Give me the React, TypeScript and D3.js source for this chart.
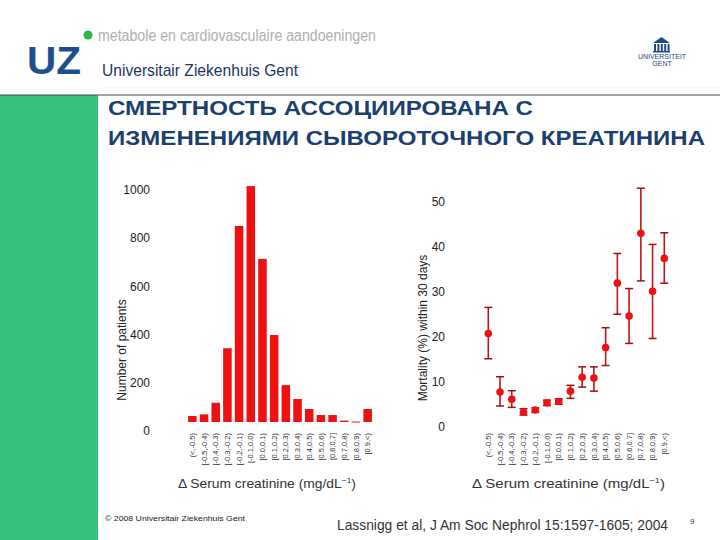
import React from "react";
import * as d3 from "d3";

const categories = [
  "(<,-0.5)", "[-0.5,-0.4)", "[-0.4,-0.3)", "[-0.3,-0.2)", "[-0.2,-0.1)", "[-0.1,0.0)",
  "[0.0,0.1)", "[0.1,0.2)", "[0.2,0.3)", "[0.3,0.4)", "[0.4,0.5)", "[0.5,0.6)",
  "[0.6,0.7]", "[0.7,0.8)", "[0.8,0.9)", "[0.9,<)",
];
const patients = [26, 33, 83, 318, 845, 1017, 703, 375, 159, 99, 56, 30, 30, 6, 2, 56];
const mortality = [20.7, 7.7, 6.1, 3.2, 3.7, 5.3, 5.6, 7.9, 11.0, 10.8, 17.6, 31.9, 24.6, 43.0, 30.1, 37.4];
const ciLow = [15.1, 4.6, 4.3, 2.6, 3.2, 4.7, 5.0, 6.3, 8.8, 7.9, 13.6, 25.0, 18.5, 32.4, 19.6, 31.9];
const ciHigh = [26.5, 11.1, 8.0, 4.0, 4.2, 5.9, 6.2, 9.2, 13.3, 13.3, 22.0, 38.5, 30.7, 53.0, 40.5, 43.1];
const patientTicks = [0, 200, 400, 600, 800, 1000];
const mortalityTicks = [0, 10, 20, 30, 40, 50];

const titleLines = ["СМЕРТНОСТЬ АССОЦИИРОВАНА С", "ИЗМЕНЕНИЯМИ СЫВОРОТОЧНОГО КРЕАТИНИНА"];

const FONT = "'Liberation Sans', Arial, sans-serif";

export default function App() {
  const xBand = d3.scaleBand<string>().domain(categories).range([186.5, 373.5]).paddingInner(0.27).paddingOuter(0.135);
  const yBar = d3.scaleLinear().domain([0, 1000]).range([422, 190]);
  const yBarTick = d3.scaleLinear().domain([0, 1000]).range([431, 190]);
  const xPt = d3.scalePoint<string>().domain(categories).range([488.3, 664.3]);
  const yM = d3.scaleLinear().domain([0, 50]).range([426.7, 201.7]);

  const xTitle = (x: number, len: number) => (
    <text x={x} y={488} fontSize={13} fill="#333" fontFamily={FONT} textLength={len} lengthAdjust="spacingAndGlyphs">
      <tspan>Δ Serum creatinine (mg/dL</tspan>
      <tspan dy={-5} fontSize={8}>−1</tspan>
      <tspan dy={5}>)</tspan>
    </text>
  );

  return (
    <svg width={720} height={540} style={{ position: "absolute", left: 0, top: 0, background: "#fff" }}>
      <rect x={0} y={0} width={720} height={540} fill="#fff" />
      {/* left green strip and rule */}
      <rect x={0} y={95} width={98} height={445} fill="#37c07c" />
      <line x1={0} x2={720} y1={95} y2={95} stroke="#444" strokeWidth={1} />
      <line x1={100} x2={720} y1={88} y2={88} stroke="#f0f0f0" strokeWidth={1} />

      {/* header */}
      <circle cx={88} cy={35} r={4.5} fill="#2fb34f" />
      <text x={98} y={41} fontSize={16} fill="#b0b0b0" fontFamily={FONT} textLength={278} lengthAdjust="spacingAndGlyphs">
        metabole en cardiovasculaire aandoeningen
      </text>
      <text x={27} y={74} fontSize={38} fontWeight={900} fill="#1d4f8b" fontFamily={FONT} textLength={54} lengthAdjust="spacingAndGlyphs">
        UZ
      </text>
      <text x={102} y={76} fontSize={17} fill="#1b3563" fontFamily={FONT} textLength={196} lengthAdjust="spacingAndGlyphs">
        Universitair Ziekenhuis Gent
      </text>
      {/* Universiteit Gent logo */}
      <g fill="#1f4a86">
        <polygon points="653,43 661.5,37 670,43" />
        {[0, 1, 2, 3, 4].map((i) => (
          <rect key={i} x={654 + i * 3.4} y={44} width={2} height={7} />
        ))}
        <rect x={653} y={51} width={17} height={1.5} />
      </g>
      <text x={662} y={59} fontSize={7} textAnchor="middle" fill="#1f4a86" fontFamily={FONT}>UNIVERSITEIT</text>
      <text x={662} y={66} fontSize={7} textAnchor="middle" fill="#1f4a86" fontFamily={FONT}>GENT</text>

      {/* title */}
      {titleLines.map((t, i) => (
        <text key={i} x={108} y={115 + i * 30} fontSize={21} fontWeight={700} fill="#1c3f6e"
          fontFamily="'Liberation Sans Narrow', 'Liberation Sans', Arial, sans-serif"
          textLength={i === 0 ? 425 : 597} lengthAdjust="spacingAndGlyphs">
          {t}
        </text>
      ))}

      {/* left chart */}
      {patientTicks.map((v) => (
        <text key={v} x={150} y={yBarTick(v)} dy="0.35em" textAnchor="end" fontSize={12} fill="#222" fontFamily={FONT}>
          {v}
        </text>
      ))}
      <text transform="translate(122,350) rotate(-90)" textAnchor="middle" dy="0.35em" fontSize={12} fill="#222" fontFamily={FONT}>
        Number of patients
      </text>
      {categories.map((c, i) => (
        <rect key={c} x={xBand(c)} y={yBar(patients[i])} width={xBand.bandwidth()}
          height={Math.max(1, yBar(0) - yBar(patients[i]))} fill="#ee1111" />
      ))}
      {categories.map((c) => (
        <text key={c} transform={`translate(${(xBand(c) as number) + xBand.bandwidth() / 2},433) rotate(-90)`}
          textAnchor="end" dy="0.35em" fontSize={7.5} fill="#333" fontFamily={FONT}>
          {c}
        </text>
      ))}
      {xTitle(178, 178)}

      {/* right chart */}
      {mortalityTicks.map((v) => (
        <text key={v} x={445} y={yM(v)} dy="0.35em" textAnchor="end" fontSize={12} fill="#222" fontFamily={FONT}>
          {v}
        </text>
      ))}
      <text transform="translate(423,328) rotate(-90)" textAnchor="middle" dy="0.35em" fontSize={12} fill="#222" fontFamily={FONT}>
        Mortality (%) within 30 days
      </text>
      {categories.map((c, i) => {
        const x = xPt(c) as number;
        return (
          <g key={c}>
            <line x1={x} x2={x} y1={yM(ciLow[i])} y2={yM(ciHigh[i])} stroke="#c0141a" strokeWidth={1.6} />
            <line x1={x - 4} x2={x + 4} y1={yM(ciLow[i])} y2={yM(ciLow[i])} stroke="#a01016" strokeWidth={1.5} />
            <line x1={x - 4} x2={x + 4} y1={yM(ciHigh[i])} y2={yM(ciHigh[i])} stroke="#a01016" strokeWidth={1.5} />
            <circle cx={x} cy={yM(mortality[i])} r={3.8} fill="#ee1111" />
          </g>
        );
      })}
      {categories.map((c) => (
        <text key={c} transform={`translate(${xPt(c)},433) rotate(-90)`}
          textAnchor="end" dy="0.35em" fontSize={7.5} fill="#333" fontFamily={FONT}>
          {c}
        </text>
      ))}
      {xTitle(472, 193)}

      {/* footer */}
      <text x={105} y={521} fontSize={7.5} fill="#222" fontFamily={FONT} textLength={140} lengthAdjust="spacingAndGlyphs">
        © 2008 Universitair Ziekenhuis Gent
      </text>
      <text x={337} y={530} fontSize={14} fill="#333" fontFamily={FONT} textLength={331} lengthAdjust="spacingAndGlyphs">
        Lassnigg et al, J Am Soc Nephrol 15:1597-1605; 2004
      </text>
      <text x={690} y={524} fontSize={8} fill="#333" fontFamily={FONT}>9</text>
    </svg>
  );
}
